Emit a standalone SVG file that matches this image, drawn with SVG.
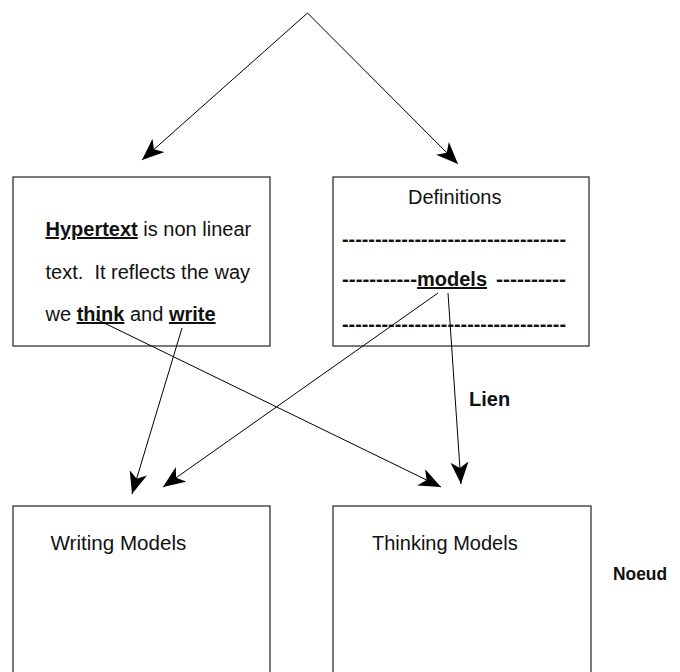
<svg xmlns="http://www.w3.org/2000/svg" width="680" height="672" viewBox="0 0 680 672">
<style>
text{font-family:"Liberation Sans",Arial,sans-serif;fill:#111;font-size:20px}
.b{font-weight:bold}
.u{text-decoration:underline}
.d{font-weight:bold}
.box{fill:#fff;stroke:#333;stroke-width:1.3}
.ln{stroke:#000;stroke-width:1;fill:none;marker-end:url(#ah)}
</style>
<defs>
<marker id="ah" markerUnits="userSpaceOnUse" markerWidth="24" markerHeight="20" refX="22" refY="9" orient="auto">
<path d="M0,0 L22,9 L0,18 L6,9 Z" fill="#000"/>
</marker>
</defs>
<g id="hypertext">
<rect class="box" x="13" y="177" width="257" height="169"/>
<text x="45.5" y="236"><tspan class="b u">Hypertext</tspan> is non linear</text>
<text x="45.5" y="278.5" xml:space="preserve">text.  It reflects the way</text>
<text x="45.5" y="321">we <tspan class="b u">think</tspan> and <tspan class="b u">write</tspan></text>
</g>
<g id="definitions">
<rect class="box" x="333" y="177" width="256" height="169"/>
<text x="408" y="204">Definitions</text>
<text class="d" x="342" y="246" textLength="224" lengthAdjust="spacingAndGlyphs">----------------------------------</text>
<text class="d" x="342" y="286" textLength="75" lengthAdjust="spacingAndGlyphs">-----------</text>
<text x="417" y="286" class="b u">models</text>
<text class="d" x="496" y="286" textLength="70" lengthAdjust="spacingAndGlyphs">----------</text>
<text class="d" x="342" y="331" textLength="224" lengthAdjust="spacingAndGlyphs">----------------------------------</text>
</g>
<g id="writing">
<rect class="box" x="13" y="506" width="257" height="180"/>
<text x="50.5" y="550" style="font-size:20.6px">Writing Models</text>
</g>
<g id="thinking">
<rect class="box" x="333" y="506" width="258" height="180"/>
<text x="372" y="550">Thinking Models</text>
</g>
<g id="labels">
<text x="469" y="405.5" class="b">Lien</text>
<text x="613" y="580" class="b" style="font-size:18.5px" textLength="54" lengthAdjust="spacingAndGlyphs">Noeud</text>
</g>
<g id="connectors">
<line class="ln" x1="307.5" y1="13" x2="142" y2="160"/>
<line class="ln" x1="307.5" y1="13" x2="458" y2="164"/>
<line class="ln" x1="96" y1="319" x2="441" y2="487"/>
<line class="ln" x1="182" y1="328" x2="132" y2="494"/>
<line class="ln" x1="438" y1="293" x2="163" y2="487"/>
<line class="ln" x1="448" y1="293" x2="461" y2="484"/>
</g>
</svg>
